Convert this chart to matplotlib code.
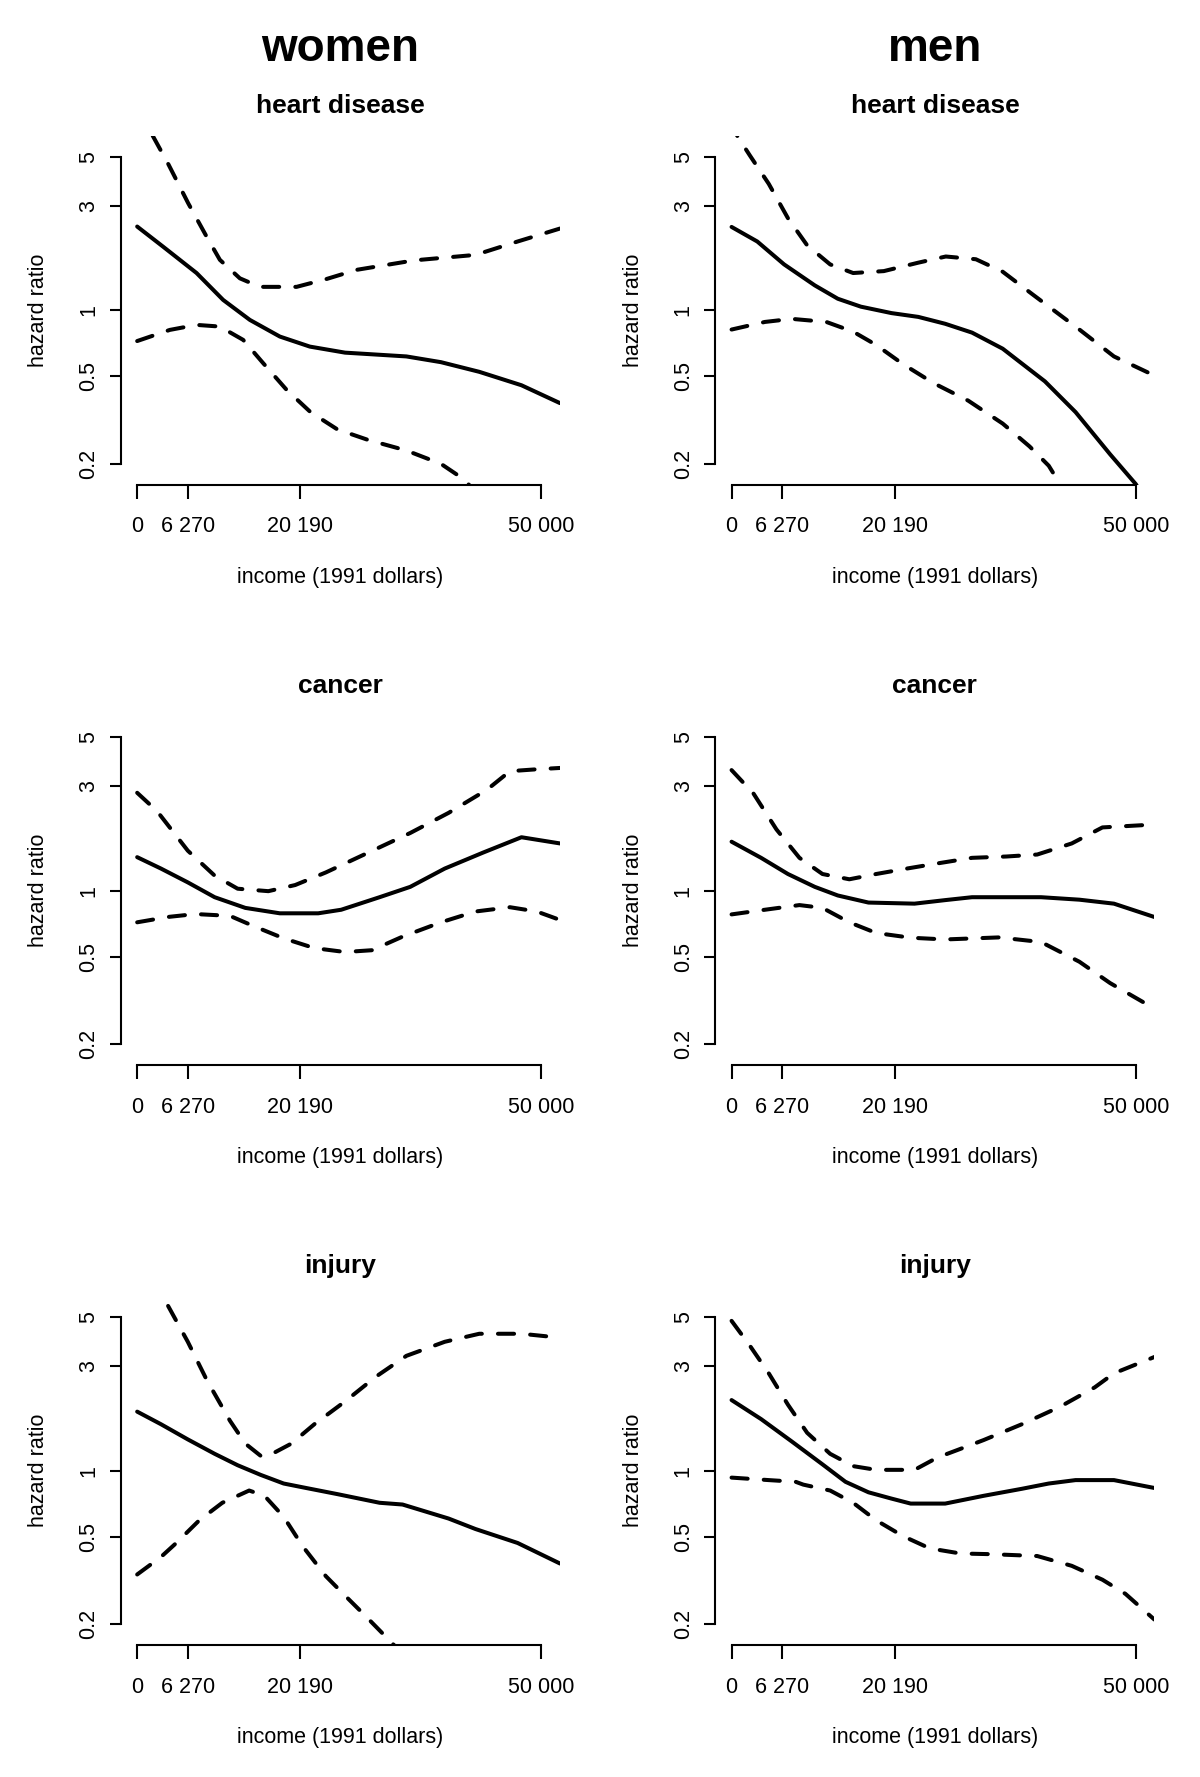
import matplotlib
matplotlib.use("Agg")
import matplotlib.pyplot as plt
from matplotlib.ticker import NullLocator

plt.rcParams['font.family'] = ['Liberation Sans', 'DejaVu Sans']

# hazard ratios, income in 1991 dollars
# women - heart disease
wh_est_x = [0, 3215, 7346, 10636, 13938, 17648, 21358, 25712, 33300, 37571, 42315, 47533, 52300]
wh_est = [2.41, 1.95, 1.48, 1.116, 0.905, 0.760, 0.684, 0.642, 0.617, 0.581, 0.525, 0.456, 0.378]
wh_up_x = [0, 1940, 3890, 6307, 8582, 10228, 12701, 15175, 19713, 23420, 27135, 34250, 41841, 47059, 52300]
wh_up = [8.4, 6.23, 4.61, 3.08, 2.17, 1.70, 1.40, 1.28, 1.28, 1.39, 1.53, 1.69, 1.79, 2.06, 2.36]
wh_lo_x = [0, 4044, 7346, 10228, 13109, 15583, 18476, 21442, 24763, 28558, 33302, 37571, 40417, 42500]
wh_lo = [0.725, 0.815, 0.859, 0.844, 0.734, 0.575, 0.435, 0.344, 0.287, 0.257, 0.230, 0.200, 0.170, 0.14]

# men - heart disease
mh_est_x = [0, 3178, 6499, 10294, 13140, 15987, 19782, 23102, 26423, 29744, 33539, 38757, 42552, 46822, 50000, 51000]
mh_est = [2.40, 2.06, 1.62, 1.30, 1.13, 1.04, 0.972, 0.934, 0.869, 0.792, 0.669, 0.475, 0.344, 0.221, 0.1616, 0.14]
mh_up_x = [0, 711, 2230, 4602, 6974, 9346, 12192, 15038, 18833, 23102, 26500, 30218, 33539, 37334, 43027, 47296, 52300]
mh_up = [7.3, 6.23, 5.10, 3.77, 2.63, 1.98, 1.62, 1.48, 1.51, 1.65, 1.76, 1.71, 1.50, 1.175, 0.818, 0.617, 0.505]
mh_lo_x = [0, 4127, 7448, 11717, 15038, 17884, 21205, 25000, 29270, 33539, 36860, 39232, 40655, 42000]
mh_lo = [0.818, 0.886, 0.915, 0.886, 0.80, 0.696, 0.569, 0.466, 0.388, 0.305, 0.240, 0.196, 0.161, 0.135]

# women - cancer
wc_est_x = [0, 2941, 6262, 9583, 13378, 17647, 22391, 25237, 29981, 33776, 38046, 42789, 47533, 52300]
wc_est = [1.42, 1.26, 1.09, 0.933, 0.834, 0.788, 0.788, 0.818, 0.933, 1.04, 1.26, 1.49, 1.75, 1.64]
wc_up_x = [0, 2467, 6262, 9583, 12429, 16224, 19545, 23340, 28083, 33776, 38520, 43264, 46110, 49431, 52300]
wc_up = [2.79, 2.30, 1.52, 1.17, 1.02, 0.994, 1.06, 1.21, 1.46, 1.83, 2.26, 2.88, 3.50, 3.57, 3.62]
wc_lo_x = [0, 3890, 7211, 11480, 14326, 18121, 21917, 25712, 29032, 32827, 37571, 41841, 46110, 49431, 52300]
wc_lo = [0.717, 0.759, 0.782, 0.767, 0.691, 0.606, 0.547, 0.525, 0.535, 0.617, 0.717, 0.803, 0.84, 0.803, 0.735]

# men - cancer
mc_est_x = [0, 3653, 6974, 10294, 13140, 16935, 22628, 26423, 29744, 38283, 43027, 47296, 52300]
mc_est = [1.67, 1.41, 1.19, 1.04, 0.95, 0.882, 0.872, 0.905, 0.933, 0.933, 0.909, 0.872, 0.758]
mc_up_x = [0, 2704, 5550, 8397, 11243, 14564, 17884, 21679, 25474, 29744, 34013, 37808, 42078, 45873, 52300]
mc_up = [3.54, 2.77, 1.90, 1.41, 1.19, 1.126, 1.19, 1.26, 1.33, 1.41, 1.43, 1.46, 1.64, 1.94, 2.0]
mc_lo_x = [0, 4127, 8397, 11243, 14564, 17884, 22154, 26423, 33065, 38283, 43027, 46822, 52300]
mc_lo = [0.779, 0.818, 0.859, 0.834, 0.717, 0.641, 0.610, 0.599, 0.612, 0.583, 0.474, 0.379, 0.29]

# women - injury
wi_est_x = [0, 2941, 6262, 9583, 12429, 15275, 18121, 20967, 24763, 29981, 32827, 38520, 41841, 47059, 52300]
wi_est = [1.86, 1.63, 1.39, 1.195, 1.06, 0.958, 0.875, 0.834, 0.783, 0.715, 0.702, 0.606, 0.543, 0.469, 0.378]
wi_up_x = [0, 3178, 6262, 8634, 11480, 13378, 15275, 16224, 19070, 21917, 25712, 29507, 33302, 38046, 42315, 47533, 52300]
wi_up = [10.2, 6.23, 3.87, 2.58, 1.69, 1.33, 1.17, 1.17, 1.33, 1.63, 2.07, 2.68, 3.34, 3.87, 4.21, 4.21, 4.04]
wi_lo_x = [0, 2941, 4839, 7685, 10531, 13852, 15750, 18121, 20493, 23340, 25712, 28083, 30455, 31879, 33000]
wi_lo = [0.337, 0.405, 0.469, 0.595, 0.715, 0.813, 0.769, 0.617, 0.452, 0.331, 0.270, 0.221, 0.180, 0.159, 0.145]

# men - injury
mi_est_x = [0, 3653, 7448, 11243, 14089, 16935, 19782, 22154, 26423, 31167, 35911, 39232, 42552, 47296, 52300]
mi_est = [2.10, 1.72, 1.36, 1.07, 0.891, 0.798, 0.747, 0.709, 0.709, 0.769, 0.828, 0.875, 0.907, 0.907, 0.835]
mi_up_x = [0, 2230, 4602, 6974, 9346, 12192, 15038, 17884, 22628, 25474, 27846, 31167, 35911, 40655, 44924, 47296, 52300]
mi_up = [4.82, 3.73, 2.78, 2.0, 1.49, 1.195, 1.05, 1.01, 1.01, 1.15, 1.24, 1.38, 1.63, 1.96, 2.40, 2.78, 3.3]
mi_lo_x = [0, 4602, 7922, 8871, 12192, 15038, 17884, 21205, 24526, 28321, 32116, 37808, 42078, 45873, 48719, 52300]
mi_lo = [0.931, 0.907, 0.891, 0.865, 0.813, 0.715, 0.595, 0.504, 0.443, 0.42, 0.417, 0.409, 0.369, 0.319, 0.275, 0.21]

income_ticks = [0, 6270, 20190, 50000]
income_labels = ['0', '6 270', '20 190', '50 000']
hr_ticks = [0.2, 0.5, 1, 3, 5]
hr_labels = ['0.2', '0.5', '1', '3', '5']

W, H = 1200, 1777
fig = plt.figure(figsize=(W / 100, H / 100), dpi=100)

col_left = [121, 715.4]
row_top = [136, 716.2, 1296.4]
ax_w = 439
ax_h = 348.5
LW = 2.9


def fx(px):
    return px / W


def fy(py):
    return 1 - py / H


def panel(col, row, title, est_x, est, up_x, up, lo_x, lo):
    left = col_left[col]
    top = row_top[row]
    ax = fig.add_axes([fx(left), fy(top + ax_h), ax_w / W, ax_h / H])
    ax.set_yscale('log')
    ax.set_xlim(-2000, 52300)
    ax.set_ylim(0.161, 6.23)

    ax.plot(est_x, est, color='black', lw=LW, solid_joinstyle='round', solid_capstyle='round')
    for xs, ys in [(up_x, up), (lo_x, lo)]:
        ax.plot(xs, ys, color='black', lw=LW, dashes=(4.0, 4.0),
                dash_capstyle='round', dash_joinstyle='round')

    for s in ['top', 'right']:
        ax.spines[s].set_visible(False)
    ax.spines['left'].set_bounds(0.2, 5)
    ax.spines['bottom'].set_bounds(0, 50000)
    ax.spines['left'].set_linewidth(1.5)
    ax.spines['bottom'].set_linewidth(1.5)

    ax.yaxis.set_minor_locator(NullLocator())
    ax.set_yticks(hr_ticks)
    ax.set_yticklabels(hr_labels, rotation=90, va='center')
    ax.set_xticks(income_ticks)
    ax.set_xticklabels(income_labels)
    ax.tick_params(axis='y', direction='out', length=8, width=1.5, pad=7.5, labelsize=15.5)
    ax.tick_params(axis='x', direction='out', length=10, width=1.5, pad=13, labelsize=15.5)

    cx = left + ax_w / 2
    fig.text(fx(cx), fy(top - 23), title, ha='center', va='baseline', fontsize=19, fontweight='bold')
    fig.text(fx(cx), fy(top + 447), 'income (1991 dollars)', ha='center', va='baseline', fontsize=15.5)
    fig.text(fx(left - 82), fy(top + ax_h / 2), 'hazard ratio', ha='center', va='center',
             rotation=90, fontsize=15.5)
    return ax


panel(0, 0, 'heart disease', wh_est_x, wh_est, wh_up_x, wh_up, wh_lo_x, wh_lo)
panel(1, 0, 'heart disease', mh_est_x, mh_est, mh_up_x, mh_up, mh_lo_x, mh_lo)
panel(0, 1, 'cancer', wc_est_x, wc_est, wc_up_x, wc_up, wc_lo_x, wc_lo)
panel(1, 1, 'cancer', mc_est_x, mc_est, mc_up_x, mc_up, mc_lo_x, mc_lo)
panel(0, 2, 'injury', wi_est_x, wi_est, wi_up_x, wi_up, wi_lo_x, wi_lo)
panel(1, 2, 'injury', mi_est_x, mi_est, mi_up_x, mi_up, mi_lo_x, mi_lo)

fig.text(fx(col_left[0] + ax_w / 2), fy(61), 'women', ha='center', va='baseline', fontsize=33, fontweight='bold')
fig.text(fx(col_left[1] + ax_w / 2), fy(61), 'men', ha='center', va='baseline', fontsize=33, fontweight='bold')

fig.savefig('out.png', dpi=100, facecolor='white')
